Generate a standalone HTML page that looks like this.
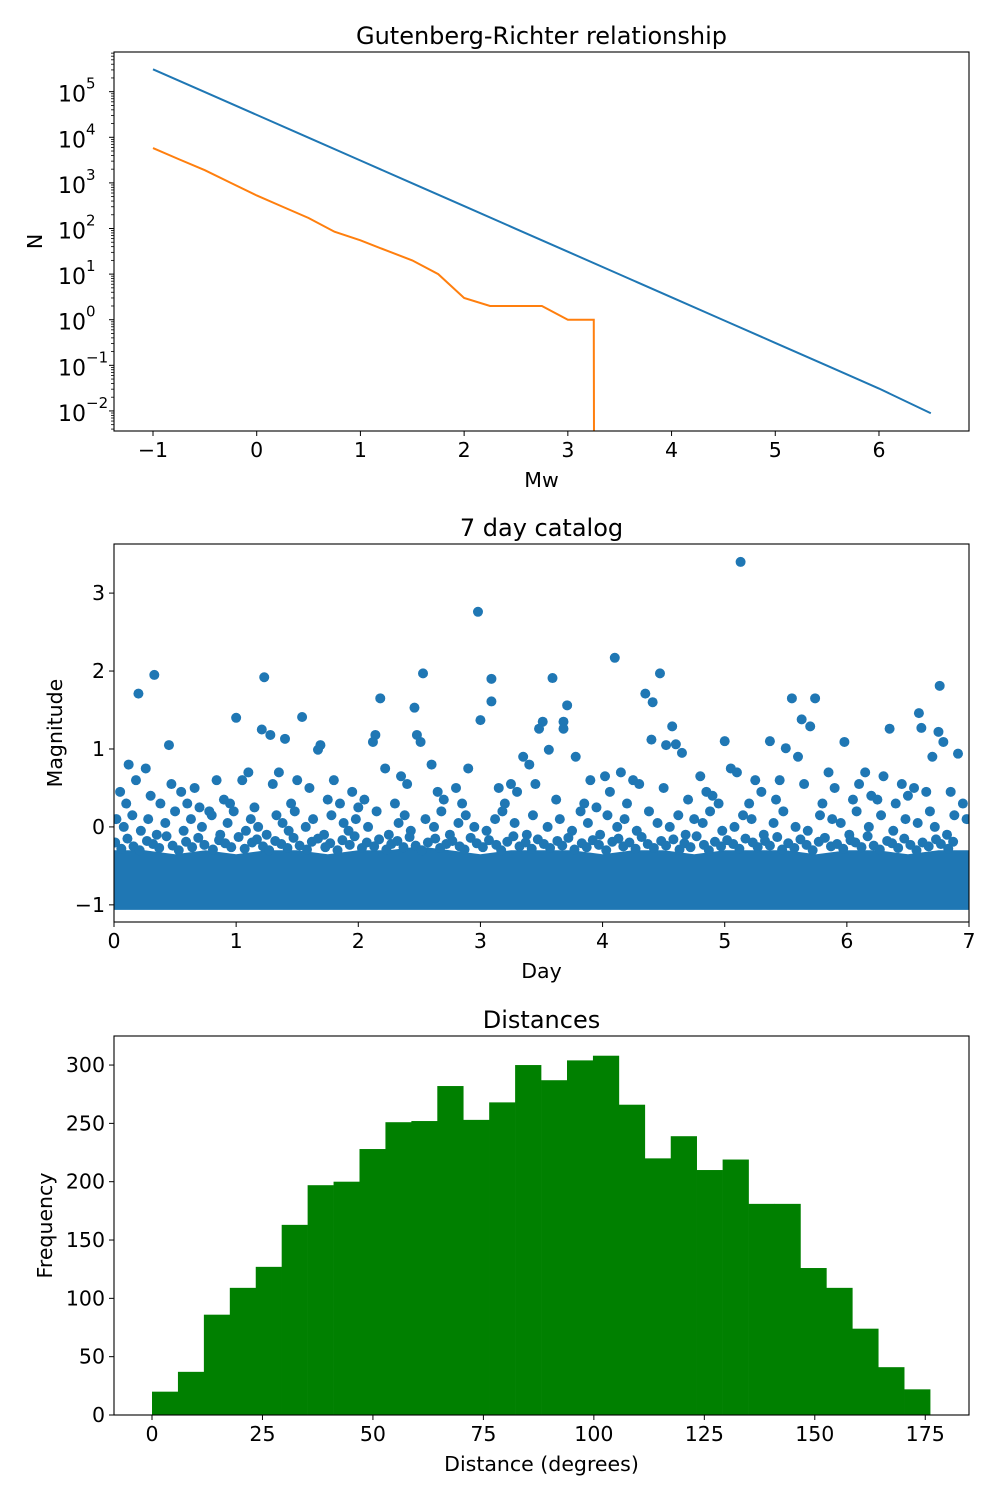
<!DOCTYPE html>
<html><head><meta charset="utf-8"><style>
html,body{margin:0;background:#fff;overflow:hidden;width:1000px;height:1500px}
svg{display:block}
text{font-family:"DejaVu Sans","Liberation Sans",sans-serif;fill:#000}
</style></head><body>
<svg id="fig" width="1000" height="1500" viewBox="0 0 1000 1500" xmlns="http://www.w3.org/2000/svg">
<defs>
<clipPath id="c1"><rect x="114" y="52" width="855" height="379"/></clipPath>
<clipPath id="c2"><rect x="114" y="544" width="855" height="378"/></clipPath>
<clipPath id="c3"><rect x="114" y="1036" width="855" height="379"/></clipPath>
</defs>
<g id="p1"></g>
<g id="p2"></g>
<g id="p3"></g>
</svg>
<script>
// ---- Panel 1 data ----
const grMw = [-1,-0.5,0,0.5,1,1.5,2,2.5,3,3.5,4,4.5,5,5.5,6,6.5];
const grTheoretical = [309000,98000,31000,9800,3100,980,310,98,31,9.8,3.1,0.98,0.31,0.098,0.031,0.0089];
const obsMw = [-1,-0.75,-0.5,-0.25,0,0.25,0.5,0.75,1,1.25,1.5,1.75,2,2.25,2.5,2.75,3,3.25,3.5];
const obsCounts = [5800,3300,1900,1000,530,300,170,85,55,33,20,10,3,2,2,2,1,1,0];
const p1XTicks = [-1,0,1,2,3,4,5,6];
const p1YExp = [-2,-1,0,1,2,3,4,5];
// ---- Panel 2 data ----
const bandDays = [0,0.25,0.5,0.75,1,1.25,1.5,1.75,2,2.25,2.5,2.75,3,3.25,3.5,3.75,4,4.25,4.5,4.75,5,5.25,5.5,5.75,6,6.25,6.5,6.75,7];
const bandTop = [-0.3,-0.3,-0.35,-0.3,-0.35,-0.3,-0.3,-0.35,-0.3,-0.3,-0.25,-0.3,-0.35,-0.3,-0.3,-0.3,-0.35,-0.3,-0.3,-0.35,-0.3,-0.3,-0.3,-0.35,-0.3,-0.3,-0.35,-0.3,-0.3];
const eqDay = [0.2,0.33,1.0,1.23,1.21,1.28,1.4,1.54,1.69,1.67,2.18,2.14,2.12,2.46,2.53,2.48,2.51,2.98,3.0,3.09,3.09,3.59,3.71,3.68,3.68,3.51,3.48,3.56,4.1,4.47,4.35,4.41,4.57,4.4,4.6,4.52,5.0,5.13,5.37,5.5,5.55,5.74,5.63,5.7,5.98,6.35,6.59,6.61,6.76,6.75,6.79,6.91,
0.05,0.12,0.1,0.18,0.26,0.3,0.38,0.45,0.47,0.55,0.6,0.66,0.7,0.78,0.84,0.9,0.95,1.05,1.1,1.15,1.3,1.35,1.45,1.5,1.6,1.75,1.8,1.85,1.95,2.0,2.05,2.22,2.3,2.35,2.4,2.6,2.65,2.7,2.8,2.85,2.9,3.15,3.2,3.25,3.3,3.35,3.4,3.45,3.62,3.78,3.85,3.9,3.95,4.02,4.06,4.15,4.2,4.25,4.3,4.5,4.65,4.7,4.8,4.85,4.9,4.95,5.05,5.1,5.2,5.25,5.3,5.42,5.45,5.6,5.65,5.8,5.85,5.9,6.05,6.1,6.15,6.2,6.25,6.3,6.4,6.45,6.5,6.55,6.65,6.7,6.85,6.95,
0.02,0.08,0.15,0.22,0.28,0.35,0.42,0.5,0.57,0.63,0.72,0.8,0.87,0.93,0.98,1.08,1.12,1.18,1.25,1.33,1.38,1.43,1.48,1.57,1.63,1.72,1.78,1.88,1.92,1.98,2.08,2.15,2.25,2.33,2.38,2.43,2.55,2.62,2.68,2.75,2.82,2.88,2.95,3.05,3.12,3.18,3.28,3.38,3.43,3.55,3.65,3.75,3.82,3.88,3.98,4.04,4.12,4.18,4.28,4.38,4.45,4.55,4.62,4.68,4.75,4.82,4.88,4.98,5.08,5.15,5.22,5.32,5.4,5.48,5.58,5.68,5.78,5.88,5.95,6.02,6.08,6.18,6.28,6.38,6.48,6.58,6.68,6.72,6.82,6.88,6.98,
0.01,0.06,0.11,0.16,0.21,0.27,0.32,0.37,0.43,0.48,0.53,0.59,0.64,0.69,0.74,0.81,0.86,0.91,0.96,1.02,1.07,1.13,1.17,1.22,1.27,1.32,1.37,1.42,1.47,1.52,1.58,1.62,1.67,1.73,1.77,1.83,1.87,1.93,1.97,2.03,2.07,2.13,2.17,2.23,2.27,2.32,2.37,2.42,2.47,2.52,2.57,2.63,2.67,2.72,2.77,2.83,2.87,2.92,2.97,3.02,3.07,3.13,3.17,3.22,3.27,3.32,3.37,3.42,3.47,3.52,3.57,3.63,3.67,3.72,3.77,3.83,3.87,3.92,3.97,4.03,4.08,4.13,4.17,4.22,4.27,4.32,4.37,4.42,4.48,4.52,4.58,4.63,4.67,4.72,4.77,4.83,4.87,4.92,4.97,5.02,5.07,5.12,5.17,5.23,5.27,5.33,5.37,5.43,5.47,5.52,5.57,5.62,5.67,5.72,5.77,5.82,5.87,5.92,5.97,6.03,6.07,6.12,6.17,6.22,6.27,6.33,6.37,6.42,6.47,6.52,6.57,6.62,6.67,6.73,6.77,6.83,6.87,6.92,6.97];
const eqMag = [1.71,1.95,1.40,1.92,1.25,1.18,1.13,1.41,1.05,0.99,1.65,1.18,1.09,1.53,1.97,1.18,1.09,2.76,1.37,1.90,1.61,1.91,1.56,1.35,1.26,1.35,1.26,0.99,2.17,1.97,1.71,1.60,1.29,1.12,1.06,1.05,1.10,3.40,1.10,1.01,1.65,1.65,1.38,1.29,1.09,1.26,1.46,1.27,1.81,1.22,1.09,0.94,
0.45,0.8,0.3,0.6,0.75,0.4,0.3,1.05,0.55,0.45,0.3,0.5,0.25,0.2,0.6,0.35,0.3,0.6,0.7,0.25,0.55,0.7,0.3,0.6,0.5,0.35,0.6,0.3,0.45,0.25,0.35,0.75,0.3,0.65,0.55,0.8,0.45,0.35,0.5,0.3,0.75,0.5,0.3,0.55,0.45,0.9,0.8,0.55,0.35,0.9,0.3,0.6,0.25,0.65,0.45,0.7,0.3,0.6,0.55,0.5,0.95,0.35,0.65,0.45,0.4,0.3,0.75,0.7,0.3,0.6,0.45,0.35,0.6,0.9,0.55,0.3,0.7,0.5,0.35,0.55,0.7,0.4,0.35,0.65,0.3,0.55,0.4,0.5,0.45,0.9,0.45,0.3,
0.1,0.0,0.15,-0.05,0.1,-0.1,0.05,0.2,-0.05,0.1,0.0,0.15,-0.1,0.05,0.2,-0.05,0.1,0.0,-0.1,0.15,0.05,-0.05,0.2,0.0,0.1,-0.1,0.15,0.05,-0.05,0.1,0.0,0.2,-0.1,0.05,0.15,-0.05,0.1,0.0,0.2,-0.1,0.05,0.15,0.0,-0.05,0.1,0.2,0.05,-0.1,0.15,0.0,0.1,-0.05,0.2,0.05,-0.1,0.15,0.0,0.1,-0.05,0.2,0.05,0.0,0.15,-0.1,0.1,0.05,0.2,-0.05,0.0,0.15,0.1,-0.1,0.05,0.2,0.0,-0.05,0.15,0.1,0.05,-0.1,0.2,0.0,0.15,-0.05,0.1,0.05,0.2,0.0,-0.1,0.15,0.1,
-0.2,-0.28,-0.15,-0.25,-0.3,-0.18,-0.22,-0.27,-0.12,-0.24,-0.3,-0.19,-0.26,-0.14,-0.23,-0.29,-0.17,-0.21,-0.26,-0.13,-0.28,-0.2,-0.16,-0.25,-0.3,-0.18,-0.22,-0.27,-0.14,-0.24,-0.29,-0.19,-0.15,-0.26,-0.21,-0.3,-0.17,-0.23,-0.12,-0.27,-0.2,-0.25,-0.16,-0.29,-0.22,-0.18,-0.26,-0.13,-0.24,-0.3,-0.2,-0.15,-0.27,-0.22,-0.18,-0.25,-0.29,-0.14,-0.21,-0.26,-0.17,-0.23,-0.3,-0.19,-0.12,-0.25,-0.2,-0.28,-0.16,-0.22,-0.27,-0.18,-0.24,-0.14,-0.29,-0.21,-0.26,-0.17,-0.23,-0.3,-0.19,-0.15,-0.25,-0.2,-0.28,-0.13,-0.22,-0.27,-0.18,-0.24,-0.16,-0.29,-0.21,-0.26,-0.12,-0.23,-0.3,-0.19,-0.25,-0.17,-0.22,-0.28,-0.15,-0.2,-0.26,-0.18,-0.24,-0.13,-0.29,-0.21,-0.27,-0.16,-0.23,-0.3,-0.19,-0.14,-0.25,-0.22,-0.28,-0.17,-0.2,-0.26,-0.12,-0.24,-0.29,-0.18,-0.21,-0.27,-0.15,-0.23,-0.3,-0.2,-0.25,-0.16,-0.22,-0.28,-0.19];
const p2XTicks = [0,1,2,3,4,5,6,7];
const p2YTicks = [-1,0,1,2,3];
// ---- Panel 3 data ----
const histEdgeStart = 0, histBinWidth = 5.87;
const histCounts = [20,37,86,109,127,163,197,200,228,251,252,282,253,268,300,287,304,308,266,220,239,210,219,181,181,126,109,74,41,22];
const p3XTicks = [0,25,50,75,100,125,150,175];
const p3YTicks = [0,50,100,150,200,250,300];

const NS="http://www.w3.org/2000/svg";
const TF=20.5;
function mk(tag,attrs,parent,txt){const e=document.createElementNS(NS,tag);for(const k in attrs)e.setAttribute(k,attrs[k]);if(txt!==undefined)e.textContent=txt;parent.appendChild(e);return e;}
const fmt=v=>String(v).replace('-','\u2212');

function frame(g,L,T,W,H,title,xl,yl,yLabelX){
  const t=mk('text',{x:L+W/2,y:T-8,'text-anchor':'middle','font-size':24},g,title);
  
  const x=mk('text',{x:L+W/2,y:T+H+56,'text-anchor':'middle','font-size':TF},g,xl);
  
  const y=mk('text',{x:yLabelX,y:T+H/2,'text-anchor':'middle','font-size':TF,transform:`rotate(-90 ${yLabelX} ${T+H/2})`},g,yl);
  
}
function box(g,L,T,W,H){const r=mk('rect',{x:L,y:T,width:W,height:H,fill:'none',stroke:'#000','stroke-width':1.1},g);
  }
function xtick(g,px,B,label){mk('line',{x1:px,x2:px,y1:B,y2:B+5,stroke:'#000','stroke-width':1},g);
  const t=mk('text',{x:px,y:B+26,'text-anchor':'middle','font-size':TF},g,label);
  }
function ytick(g,L,py,label){mk('line',{x1:L-5,x2:L,y1:py,y2:py,stroke:'#000','stroke-width':1},g);
  const t=mk('text',{x:L-9,y:py+7,'text-anchor':'end','font-size':TF},g,label);
  }

// Panel 1
(function(){
  const g=document.getElementById('p1');const L=114,T=52,W=855,H=379;
  const xmin=-1.376,xmax=6.868,ymin=-2.44,ymax=5.87;
  const X=v=>L+(v-xmin)/(xmax-xmin)*W;
  const Y=v=>{const l=v>0?Math.log10(v):-300;return T+(ymax-l)/(ymax-ymin)*H;};
  frame(g,L,T,W,H,'Gutenberg-Richter relationship','Mw','N',42);
  const cg=mk('g',{'clip-path':'url(#c1)'},g);
  const l1=mk('polyline',{points:grMw.map((m,i)=>X(m)+','+Y(grTheoretical[i])).join(' '),fill:'none',stroke:'#1f77b4','stroke-width':2},cg);
  
  const l2=mk('polyline',{points:obsMw.map((m,i)=>X(m)+','+Math.min(Y(obsCounts[i]),100000)).join(' '),fill:'none',stroke:'#ff7f0e','stroke-width':2},cg);
  
  box(g,L,T,W,H);
  p1XTicks.forEach(v=>xtick(g,X(v),T+H,fmt(v)));
  p1YExp.forEach(e=>{const py=Y(Math.pow(10,e));
    mk('line',{x1:L-5,x2:L,y1:py,y2:py,stroke:'#000','stroke-width':1},g);
    const t=mk('text',{x:L-28,y:py+10,'text-anchor':'end','font-size':22},g,'10');
    
    mk('text',{x:L-28,y:py-3,'text-anchor':'start','font-size':15},g,fmt(e));
    for(let k=2;k<10;k++){const pm=Y(k*Math.pow(10,e));if(pm>=T&&pm<=T+H)mk('line',{x1:L-3,x2:L,y1:pm,y2:pm,stroke:'#000','stroke-width':0.8},g);}
  });
  for(let k=2;k<10;k++){const pm=Y(k*Math.pow(10,-3));if(pm>=T&&pm<=T+H)mk('line',{x1:L-3,x2:L,y1:pm,y2:pm,stroke:'#000','stroke-width':0.8},g);}
})();

// Panel 2
(function(){
  const g=document.getElementById('p2');const L=114,T=544,W=855,H=378;
  const xmin=0,xmax=7,ymin=-1.22,ymax=3.63;
  const X=v=>L+(v-xmin)/(xmax-xmin)*W, Y=v=>T+(ymax-v)/(ymax-ymin)*H;
  frame(g,L,T,W,H,'7 day catalog','Day','Magnitude',62);
  const cg=mk('g',{'clip-path':'url(#c2)'},g);
  const pts=bandDays.map((d,i)=>X(d)+','+Y(bandTop[i]));
  const band=mk('polygon',{points:X(0)+','+(Y(-1)+5)+' '+pts.join(' ')+' '+X(7)+','+(Y(-1)+5),fill:'#1f77b4'},cg);
  
  eqDay.forEach((d,i)=>{const c=mk('circle',{cx:X(d),cy:Y(eqMag[i]),r:5,fill:'#1f77b4'},cg);
    });
  box(g,L,T,W,H);
  p2XTicks.forEach(v=>xtick(g,X(v),T+H,fmt(v)));
  p2YTicks.forEach(v=>ytick(g,L,Y(v),fmt(v)));
})();

// Panel 3
(function(){
  const g=document.getElementById('p3');const L=114,T=1036,W=855,H=379;
  const xmin=-8.6,xmax=184.9,ymin=0,ymax=324.9;
  const X=v=>L+(v-xmin)/(xmax-xmin)*W, Y=v=>T+(ymax-v)/(ymax-ymin)*H;
  frame(g,L,T,W,H,'Distances','Distance (degrees)','Frequency',52);
  histCounts.forEach((c,i)=>{const x0=X(histEdgeStart+i*histBinWidth),x1=X(histEdgeStart+(i+1)*histBinWidth);
    const r=mk('rect',{x:x0,y:Y(c),width:x1-x0+0.3,height:Y(0)-Y(c),fill:'#008000'},g);
    });
  box(g,L,T,W,H);
  p3XTicks.forEach(v=>xtick(g,X(v),T+H,fmt(v)));
  p3YTicks.forEach(v=>ytick(g,L,Y(v),fmt(v)));
})();
</script>
</body></html>
